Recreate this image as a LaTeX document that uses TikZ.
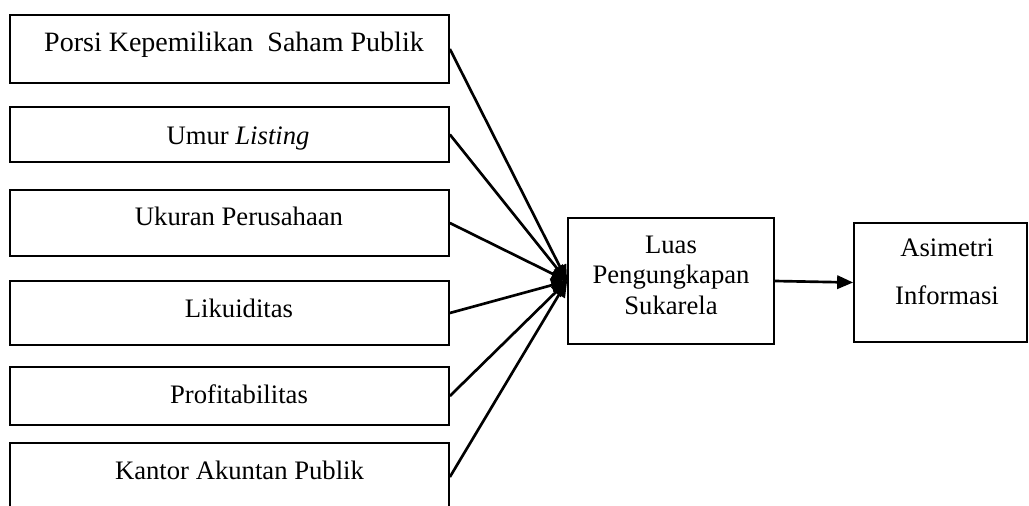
\documentclass[tikz,border=0pt]{standalone}
\usepackage{fontspec}
\setmainfont{Liberation Serif}
\usetikzlibrary{arrows.meta}
\begin{document}
\begin{tikzpicture}[x=0.75pt,y=-0.75pt,
  box/.style={draw, line width=1.3pt, inner sep=0pt, minimum width=#1},
  lbl/.style={anchor=base, inner sep=0pt, font=\fontsize{20}{24}\selectfont},
  conn/.style={line width=2pt, -{Triangle[length=12pt,width=10pt]}}]
\useasboundingbox (0,0) rectangle (1029,506);
\clip (0,0) rectangle (1029,506);
% left boxes
\node[box=329.25pt, minimum height=51pt]    (b1) at (229.5,49) {};
\node[box=329.25pt, minimum height=41.25pt] (b2) at (229.5,134.5) {};
\node[box=329.25pt, minimum height=49.5pt]  (b3) at (229.5,223) {};
\node[box=329.25pt, minimum height=48pt]    (b4) at (229.5,313) {};
\node[box=329.25pt, minimum height=43.5pt]  (b5) at (229.5,396) {};
\node[box=329.25pt, minimum height=51pt]    (b6) at (229.5,477) {};
% centre and right boxes
\node[box=154.5pt, minimum height=94.5pt]  (c) at (671,281) {};
\node[box=129.75pt, minimum height=89.25pt] (a) at (940.5,282.5) {};
% labels
\node[lbl, font=\fontsize{21}{24}\selectfont] (t1) at (234,52) {Porsi Kepemilikan~ Saham Publik};
\node[lbl] (t2) at (238,145) {Umur \textit{Listing}};
\node[lbl] (t3) at (239,226) {Ukuran Perusahaan};
\node[lbl] (t4) at (239,317) {Likuiditas};
\node[lbl] (t5) at (239,403) {Profitabilitas};
\node[lbl] (t6) at (239.5,479) {Kantor Akuntan Publik};
\node[lbl] (tc1) at (671,253) {Luas};
\node[lbl] (tc2) at (671,283) {Pengungkapan};
\node[lbl] (tc3) at (671,315) {Sukarela};
\node[lbl] (ta1) at (947,257) {Asimetri};
\node[lbl] (ta2) at (947,305) {Informasi};
% connectors
\foreach \b in {b1,b2,b3,b4,b5,b6}
  \draw[conn] (\b.east) -- (c.west);
\draw[conn] (c.east) -- (a.west);
\end{tikzpicture}
\end{document}
